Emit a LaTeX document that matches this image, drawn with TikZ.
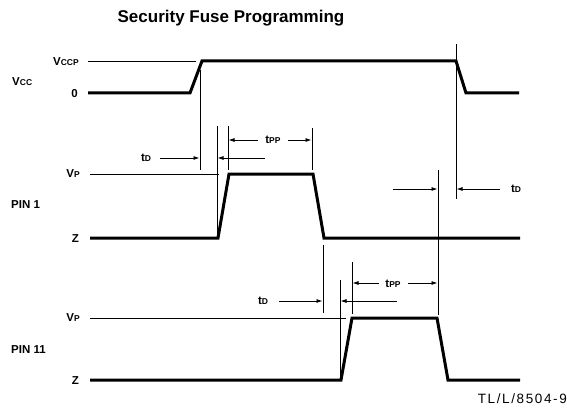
\documentclass[tikz,border=0pt]{standalone}
\usepackage{fontspec}
\setmainfont{Liberation Sans}
\newfontfamily\tlfont[LetterSpace=12]{Liberation Sans}
\usetikzlibrary{arrows.meta}
\newcommand{\sm}[1]{{\fontsize{8.5}{8.5}\selectfont #1}}
\begin{document}
\begin{tikzpicture}[x=1pt,y=-1pt,
  wave/.style={line width=3pt, line join=miter},
  thinline/.style={line width=0.9pt},
  marker/.style={line width=0.9pt},
  dim/.style={line width=0.8pt,-{Latex[length=6pt,width=4pt]}},
  lbl/.style={font=\bfseries\fontsize{11.5}{11.5}\selectfont, inner sep=0pt},
  tlbl/.style={font=\bfseries\fontsize{11.5}{11.5}\selectfont, inner sep=0pt},
]
\useasboundingbox (0,0) rectangle (567,417);

% title
\node[font=\bfseries\fontsize{17}{17}\selectfont, inner sep=0pt] (title) at (231,18) {Security Fuse Programming};

% labels
\node[lbl, anchor=west] (vcc) at (12,82) {V\sm{CC}};
\node[lbl, anchor=east] (vccp) at (79,62) {V\sm{CCP}};
\node[lbl, anchor=east] (zero) at (78,94) {0};
\node[lbl, anchor=west] (pin1) at (11,205) {PIN 1};
\node[lbl, anchor=east] (vp1) at (80,174) {V\sm{P}};
\node[lbl, anchor=east] (z1) at (79,239) {Z};
\node[lbl, anchor=west] (pin11) at (11,350) {PIN 11};
\node[lbl, anchor=east] (vp11) at (80,318) {V\sm{P}};
\node[lbl, anchor=east] (z11) at (79,381) {Z};
\node[font=\tlfont\fontsize{13.5}{13.5}\selectfont, anchor=east, inner sep=0pt] (tl) at (567,399) {TL/L/8504-9};

% reference levels
\draw[thinline] (88,61) -- (196,61);
\draw[thinline] (90,174) -- (219,174);
\draw[thinline] (90,318) -- (346,318);

% waveforms
\draw[wave] (88,93) -- (190,93) -- (202,61) -- (456,61) -- (466,93) -- (519,93);
\draw[wave] (90,238) -- (218,238) -- (229,174) -- (313,174) -- (324,238) -- (520,238);
\draw[wave] (90,380) -- (341,380) -- (352,318) -- (437,318) -- (448,380) -- (520,380);

% marker lines
\coordinate (a1) at (200,70);  \coordinate (a2) at (200,170);
\coordinate (b1) at (217,126); \coordinate (b2) at (217,236);
\coordinate (c1) at (228,126); \coordinate (c2) at (228,170);
\coordinate (d1) at (312,128); \coordinate (d2) at (312,170);
\coordinate (e1) at (438,170); \coordinate (e2) at (438,315);
\coordinate (f1) at (456,44);  \coordinate (f2) at (456,199);
\coordinate (g1) at (323,245); \coordinate (g2) at (323,313);
\coordinate (h1) at (340,280); \coordinate (h2) at (340,378);
\coordinate (i1) at (352,262); \coordinate (i2) at (352,314);
\foreach \p in {a,b,c,d,e,f,g,h,i} \draw[marker] (\p1) -- (\p2);

% tD (pin 1)
\node[tlbl] (td1) at (146,158) {t\sm{D}};
\coordinate (td1a) at (160,158); \coordinate (td1b) at (199.5,158);
\coordinate (td1c) at (265,158); \coordinate (td1d) at (217.5,158);
\draw[dim] (td1a) -- (td1b);
\draw[dim] (td1c) -- (td1d);

% tPP (pin 1)
\node[tlbl] (tpp1) at (273,140) {t\sm{PP}};
\coordinate (tp1a) at (258,140); \coordinate (tp1b) at (228.5,140);
\coordinate (tp1c) at (288,140); \coordinate (tp1d) at (311.5,140);
\draw[dim] (tp1a) -- (tp1b);
\draw[dim] (tp1c) -- (tp1d);

% tD (right)
\node[tlbl] (td2) at (516,189) {t\sm{D}};
\coordinate (td2a) at (393,189); \coordinate (td2b) at (437.5,189);
\coordinate (td2c) at (500,189); \coordinate (td2d) at (456.5,189);
\draw[dim] (td2a) -- (td2b);
\draw[dim] (td2c) -- (td2d);

% tD (pin 11)
\node[tlbl] (td3) at (263,301) {t\sm{D}};
\coordinate (td3a) at (279,301); \coordinate (td3b) at (322.5,301);
\coordinate (td3c) at (397,301); \coordinate (td3d) at (340.5,301);
\draw[dim] (td3a) -- (td3b);
\draw[dim] (td3c) -- (td3d);

% tPP (pin 11)
\node[tlbl] (tpp2) at (393,284) {t\sm{PP}};
\coordinate (tp2a) at (379,283); \coordinate (tp2b) at (352.5,283);
\coordinate (tp2c) at (408,283); \coordinate (tp2d) at (437.5,283);
\draw[dim] (tp2a) -- (tp2b);
\draw[dim] (tp2c) -- (tp2d);
\end{tikzpicture}
\end{document}
